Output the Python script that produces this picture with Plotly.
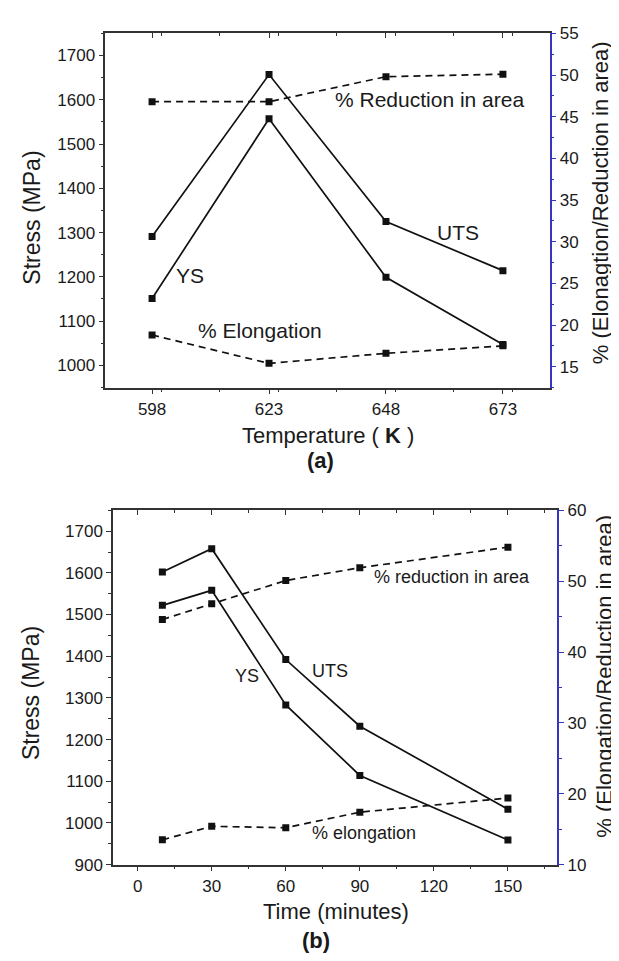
import plotly.graph_objects as go

# ---------- data: panel (a) ----------
temp_K = [598, 623, 648, 673]
uts_a = [1291, 1657, 1325, 1214]
ys_a = [1151, 1557, 1199, 1047]
ra_a = [46.8, 46.8, 49.8, 50.1]
el_a = [18.8, 15.4, 16.6, 17.5]

# ---------- data: panel (b) ----------
time_min = [10, 30, 60, 90, 150]
uts_b = [1602, 1658, 1392, 1232, 1033]
ys_b = [1522, 1558, 1283, 1114, 959]
ra_b = [44.6, 46.8, 50.1, 51.9, 54.8]
el_b = [13.5, 15.4, 15.2, 17.4, 19.4]

W, H = 619, 961
FONT = "Liberation Sans, Arial, sans-serif"
AXC = "#333333"
BLUE = "#3535c0"
INK = "#111111"
TXT = "#1a1a1a"


def px(x):
    return x / W


def py(y):
    return 1 - y / H


fig = go.Figure()


def solid(x, y, xa, ya):
    fig.add_trace(go.Scatter(x=x, y=y, xaxis=xa, yaxis=ya, mode="lines+markers",
                             line=dict(color=INK, width=1.7),
                             marker=dict(symbol="square", size=7, color=INK),
                             showlegend=False, hoverinfo="skip"))


def dashed(x, y, xa, ya):
    fig.add_trace(go.Scatter(x=x, y=y, xaxis=xa, yaxis=ya, mode="lines+markers",
                             line=dict(color=INK, width=1.7, dash="7px,5px"),
                             marker=dict(symbol="square", size=7, color=INK),
                             showlegend=False, hoverinfo="skip"))


solid(temp_K, uts_a, "x", "y")
solid(temp_K, ys_a, "x", "y")
dashed(temp_K, ra_a, "x", "y2")
dashed(temp_K, el_a, "x", "y2")

solid(time_min, uts_b, "x2", "y3")
solid(time_min, ys_b, "x2", "y3")
dashed(time_min, ra_b, "x2", "y4")
dashed(time_min, el_b, "x2", "y4")

tickfont = dict(family=FONT, size=17, color=TXT)

common_x = dict(showline=True, linecolor=AXC, linewidth=1.5, mirror=True,
                ticks="outside", ticklen=5, tickwidth=1.2, tickcolor=AXC,
                showgrid=False, zeroline=False, tickfont=tickfont)
common_yl = dict(showline=True, linecolor=AXC, linewidth=1.5, mirror=False,
                 ticks="outside", ticklen=5, tickwidth=1.2, tickcolor=AXC,
                 showgrid=False, zeroline=False, tickfont=tickfont)
common_yr = dict(showline=True, linecolor=BLUE, linewidth=1.5, side="right",
                 ticks="outside", ticklen=5, tickwidth=1.2, tickcolor=BLUE,
                 showgrid=False, zeroline=False, tickfont=tickfont)
top_ticks = dict(side="top", showline=False, ticks="inside", ticklen=5,
                 tickwidth=1.2, tickcolor=AXC, showticklabels=False,
                 showgrid=False, zeroline=False)

dxa = [px(97.3), px(541.7)]
dya = [py(378), py(16.7)]
dxb = [px(105), px(549.3)]
dyb = [py(864.7), py(503.3)]

fig.update_layout(
    width=W, height=H, autosize=False,
    margin=dict(l=0, r=0, t=0, b=0),
    paper_bgcolor="white", plot_bgcolor="white",
    font=dict(family=FONT, color=TXT),
    xaxis=dict(domain=dxa, anchor="y", range=[588, 683], tick0=598, dtick=25,
               minor=dict(dtick=12.5, ticks="outside", ticklen=3, tickcolor=AXC),
               **common_x),
    yaxis=dict(domain=dya, anchor="x", range=[950, 1750], tick0=1000, dtick=100,
               minor=dict(dtick=50, ticks="outside", ticklen=3, tickcolor=AXC),
               **common_yl),
    yaxis2=dict(overlaying="y", anchor="x", range=[12.5, 55], tick0=15, dtick=5,
                minor=dict(dtick=2.5, ticks="outside", ticklen=3, tickcolor=BLUE),
                **common_yr),
    xaxis3=dict(overlaying="x", anchor="y", range=[588, 683], tick0=598, dtick=25,
                minor=dict(dtick=12.5, ticks="inside", ticklen=3, tickcolor=AXC),
                **top_ticks),
    xaxis2=dict(domain=dxb, anchor="y3", range=[-10, 170], tick0=0, dtick=30,
                minor=dict(dtick=15, ticks="outside", ticklen=3, tickcolor=AXC),
                **common_x),
    yaxis3=dict(domain=dyb, anchor="x2", range=[900, 1750], tick0=900, dtick=100,
                minor=dict(dtick=50, ticks="outside", ticklen=3, tickcolor=AXC),
                **common_yl),
    yaxis4=dict(overlaying="y3", anchor="x2", range=[10, 60], tick0=10, dtick=10,
                minor=dict(dtick=5, ticks="outside", ticklen=3, tickcolor=BLUE),
                **common_yr),
    xaxis4=dict(overlaying="x2", anchor="y3", range=[-10, 170], tick0=0, dtick=30,
                minor=dict(dtick=15, ticks="inside", ticklen=3, tickcolor=AXC),
                **top_ticks),
)

# invisible helpers so the top tick axes are drawn
fig.add_trace(go.Scatter(x=[None], y=[None], xaxis="x3", yaxis="y", showlegend=False, hoverinfo="skip"))
fig.add_trace(go.Scatter(x=[None], y=[None], xaxis="x4", yaxis="y3", showlegend=False, hoverinfo="skip"))

ann = []


def paper_text(text, x, y, size, angle=0):
    ann.append(dict(text=text, x=px(x), y=py(y), xref="paper", yref="paper",
                    showarrow=False, textangle=angle, xanchor="center", yanchor="middle",
                    font=dict(family=FONT, size=size, color=TXT)))


def data_text(text, x, y, xr, yr, size):
    ann.append(dict(text=text, x=x, y=y, xref=xr, yref=yr, showarrow=False,
                    xanchor="center", yanchor="middle",
                    font=dict(family=FONT, size=size, color=TXT)))


# panel (a)
paper_text("Stress (MPa)", 23.7, 205, 23, -90)
paper_text("% (Elonagtion/Reduction in area)", 592, 190, 22, -90)
paper_text("Temperature ( <b>K</b> )", 320, 427, 22)
paper_text("<b>(a)</b>", 312, 452, 22)
data_text("% Reduction in area", 657.3, 1601, "x", "y", 21)
data_text("UTS", 663.4, 1300, "x", "y", 21)
data_text("YS", 606, 1204, "x", "y", 21)
data_text("% Elongation", 621, 1079, "x", "y", 21)

# panel (b)
paper_text("Stress (MPa)", 23.7, 690, 23, -90)
paper_text("% (Elongation/Reduction in area)", 597, 673, 22, -90)
paper_text("Time (minutes)", 328, 913, 22)
paper_text("<b>(b)</b>", 308, 942, 22)
data_text("% reduction in area", 127.3, 1589, "x2", "y3", 18)
data_text("UTS", 78, 1364, "x2", "y3", 18)
data_text("YS", 44.3, 1353, "x2", "y3", 18)
data_text("% elongation", 91.8, 976, "x2", "y3", 18)

fig.update_layout(annotations=ann)

fig.write_html("out.html")
